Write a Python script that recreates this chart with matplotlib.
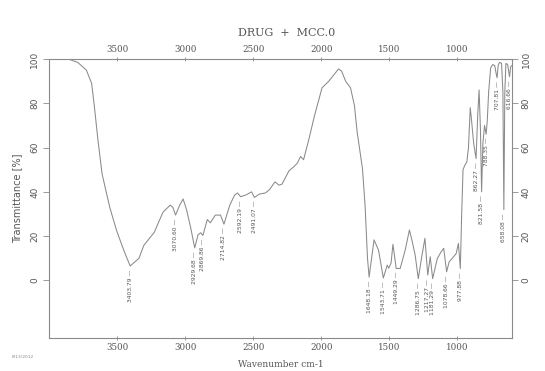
import numpy as np
import matplotlib
matplotlib.use("Agg")
import matplotlib.pyplot as plt

# FTIR spectrum, transmittance (%) against wavenumber (cm-1)
wavenumber = [4000, 3900, 3850, 3790, 3726, 3687, 3666, 3640, 3610, 3554, 3503, 3449,
              3403.79, 3339, 3304, 3227, 3163, 3110, 3090, 3070.60, 3040, 3015, 2990,
              2960, 2929.68, 2905, 2885, 2869.86, 2837, 2815, 2778, 2740, 2714.82,
              2672, 2637, 2615, 2592.19, 2549, 2512, 2491.07, 2454, 2410, 2380, 2340,
              2310, 2288, 2237, 2200, 2175, 2152, 2130, 2095, 2049, 1994, 1944, 1909,
              1873, 1850, 1821, 1785, 1756, 1736, 1697, 1678, 1660, 1648.18, 1612,
              1579, 1543.71, 1515, 1504, 1487, 1473, 1449.29, 1420, 1383, 1352, 1334,
              1310, 1286.75, 1262, 1238, 1217.27, 1199, 1181.29, 1147, 1119, 1100,
              1078.66, 1060, 1027, 1008, 992, 977.88, 968, 958, 945, 930, 918, 905,
              895, 880, 862.27, 850, 840, 830, 821.58, 812, 800, 788.35, 780, 770,
              755, 740, 725, 715, 707.81, 700, 690, 675, 665, 658.08, 651, 643, 630,
              616.66, 608, 600]
transmittance = [100, 100, 99.8, 98.5, 95, 89, 78, 63, 48, 33, 22.4, 13.3,
                 6.5, 10, 15.8, 21.7, 30.8, 34, 33, 29.5, 34, 36.8, 32,
                 24, 14.7, 20.7, 21.5, 20.3, 27.5, 26, 29.5, 29.5, 25.4,
                 34, 38.5, 39.5, 37.8, 38.7, 40, 37.5, 39, 39.5, 41, 44.5,
                 43, 43.5, 49.5, 51.4, 53, 56, 54.5, 62.7, 74.5, 87, 90, 92.7,
                 95.5, 94.5, 90, 87, 79, 67, 50.5, 34, 10, 1.5, 18.3,
                 13.7, 1.1, 6.9, 5.5, 7.8, 16.3, 5.4, 5.4, 13.7, 22.8, 18.3,
                 11.5, 0.8, 10.5, 19, 2.4, 10.7, 0.8, 9.9, 12.9, 14.5,
                 3.9, 8.4, 10.7, 12.2, 16.7, 5.4, 30, 50, 52, 53.5, 60, 78,
                 72, 62, 55, 75, 86, 68, 40, 62, 70, 66, 72, 85,
                 96, 97.5, 97, 93.5, 91.5, 97, 98.5, 98, 85, 32, 85, 98, 97.5,
                 92, 96.5, 97]

# picked bands
peaks = [3403.79, 3070.60, 2929.68, 2869.86, 2714.82, 2592.19, 2491.07,
         1648.18, 1543.71, 1449.29, 1286.75, 1217.27, 1181.29, 1078.66,
         977.88, 862.27, 821.58, 788.35, 707.81, 658.08, 616.66]

xticks = [3500, 3000, 2500, 2000, 1500, 1000]
yticks = [0, 20, 40, 60, 80, 100]

grey = '#8a8a8a'
txt = '#555555'

fig = plt.figure(figsize=(5.45, 3.71), dpi=100)
ax = fig.add_axes([0.090, 0.089, 0.849, 0.752])

ax.plot(wavenumber, transmittance, color=grey, lw=0.75)

wn = np.array(wavenumber)[::-1]
tr = np.array(transmittance)[::-1]
for p in peaks:
    t = np.interp(p, wn, tr)
    ax.annotate('%.2f \u2014' % p, xy=(p, t), xytext=(0, -2.5),
                textcoords='offset points', rotation=90, ha='center', va='top',
                fontsize=4.3, color=txt)

ax.set_xlim(4000, 600)
ax.set_ylim(-26, 100)

ax.set_xticks(xticks)
ax.set_yticks(yticks)
ax.tick_params(axis='x', top=True, labeltop=True, direction='inout', length=3,
               width=0.6, color=grey, labelsize=6.3, labelcolor=txt, pad=2)
for lab in ax.get_xticklabels(which='both'):
    lab.set_family('DejaVu Serif')
ax.tick_params(axis='y', right=True, labelright=True, direction='out', length=4,
               width=0.6, color=grey, labelsize=6.5, labelcolor=txt,
               labelrotation=90, pad=3)
for lab in ax.get_yticklabels():
    lab.set_va('center')
for lab in ax.yaxis.get_ticklabels(which='both'):
    lab.set_va('center')
for s in ax.spines.values():
    s.set_color(grey)
    s.set_linewidth(0.8)

ax.set_ylabel('Transmittance [%]', fontsize=7, color=txt, labelpad=6)
fig.text(0.525, 0.912, 'DRUG  +  MCC.0', ha='center', va='center',
         family='DejaVu Serif', fontsize=8, color=txt)
fig.text(0.515, 0.018, 'Wavenumber cm-1', ha='center', va='center',
         family='DejaVu Serif', fontsize=6.5, color=txt)
fig.text(0.022, 0.035, '8/13/2012', fontsize=3.2, color='#888888')

fig.savefig('out.png', dpi=100)
